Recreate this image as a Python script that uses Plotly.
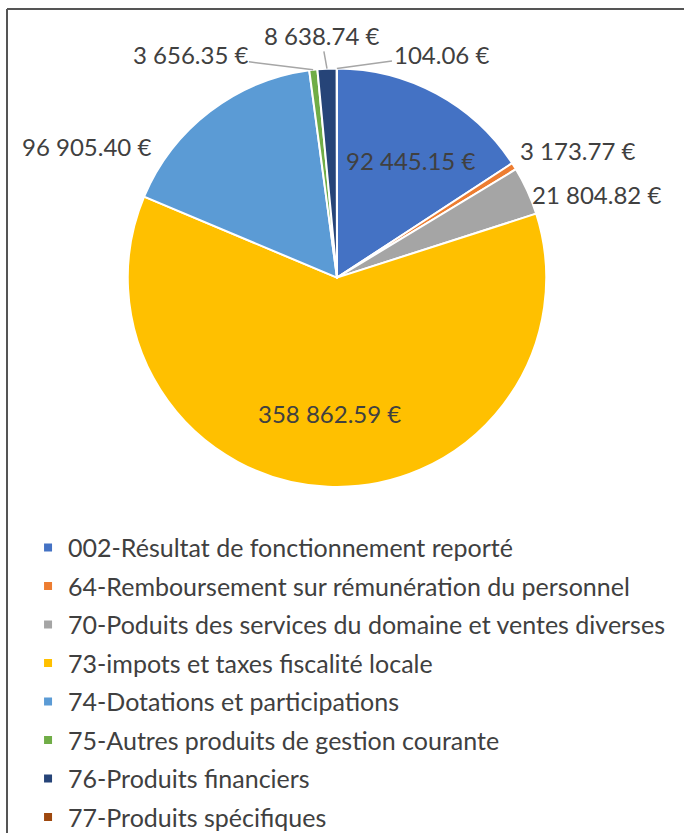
import math
import plotly.graph_objects as go

# Budget categories (recettes de fonctionnement)
categories = [
    "002-Résultat de fonctionnement reporté",
    "64-Remboursement sur rémunération du personnel",
    "70-Poduits des services du domaine et ventes diverses",
    "73-impots et taxes fiscalité locale",
    "74-Dotations et participations",
    "75-Autres produits de gestion courante",
    "76-Produits financiers",
    "77-Produits spécifiques",
]
amounts = [92445.15, 3173.77, 21804.82, 358862.59, 96905.40, 3656.35, 8638.74, 104.06]
colors = ["#4472C4", "#ED7D31", "#A5A5A5", "#FFC000", "#5B9BD5", "#70AD47", "#264478", "#9E480E"]

# Where each value label sits (pixels from the top left), and whether it has a leader line
label_xy = [(410, 162), (577, 152), (596, 196), (329, 417), (86, 148), (190, 55), (321, 36), (441, 55)]
has_leader = [False, False, False, False, False, True, True, True]

W, H = 684, 840
font_name = "Lato"
text_color = "#404040"

# Pie placement in pixels
cx, cy, r = 337, 280, 207


def px(x, y):
    # pixel position -> paper coordinates
    return x / W, 1 - y / H


fig = go.Figure()

d = r + 4
x0, y1 = px(cx - d, cy - d)
x1, y0 = px(cx + d, cy + d)
fig.add_trace(go.Pie(
    labels=categories,
    values=amounts,
    sort=False,
    direction="clockwise",
    rotation=0,
    marker=dict(colors=colors, line=dict(color="white", width=2)),
    textinfo="none",
    hoverinfo="label+value",
    showlegend=False,
    domain=dict(x=[x0, x1], y=[y0, y1]),
))

# Value labels, formatted like the original ("92 445.15 €")
label_font = dict(family=font_name, size=24, color=text_color)
total = sum(amounts)
cum = 0
for value, (lx, ly), leader in zip(amounts, label_xy, has_leader):
    mid = (cum + value / 2) / total * 2 * math.pi
    cum += value
    text = f"{value:,.2f} €".replace(",", " ")
    if leader:
        # leader line from the slice edge to the label
        hx = cx + (r + 4) * math.sin(mid)
        hy = cy - (r + 4) * math.cos(mid)
        ax_, ay_ = px(hx, hy)
        fig.add_annotation(
            x=ax_, y=ay_, xref="paper", yref="paper",
            text=text, showarrow=True, arrowhead=0, arrowwidth=1.5,
            arrowcolor="#a6a6a6", ax=lx - hx, ay=ly - hy,
            xanchor="center", yanchor="middle",
            font=label_font,
        )
    else:
        tx, ty = px(lx, ly)
        fig.add_annotation(
            x=tx, y=ty, xref="paper", yref="paper",
            text=text, showarrow=False,
            xanchor="center", yanchor="middle",
            font=label_font,
        )

# Legend entries (one group each so the rows can be spaced like the original)
for name, color in zip(categories, colors):
    fig.add_trace(go.Scatter(
        x=[None], y=[None],
        mode="markers",
        marker=dict(symbol="square", size=8, color=color),
        name=name,
        legendgroup=name,
        showlegend=True,
    ))

fig.update_xaxes(visible=False)
fig.update_yaxes(visible=False)

# Frame around the chart (left and top edges are visible in the original)
fx, fy = px(7, 9)
fig.add_shape(type="line", xref="paper", yref="paper",
              x0=fx, y0=0, x1=fx, y1=fy,
              line=dict(color="#555555", width=2))
fig.add_shape(type="line", xref="paper", yref="paper",
              x0=fx, y0=fy, x1=1, y1=fy,
              line=dict(color="#555555", width=2))

fig.update_layout(
    width=W,
    height=H,
    margin=dict(l=0, r=0, t=0, b=0),
    paper_bgcolor="white",
    plot_bgcolor="white",
    font=dict(family=font_name, color=text_color),
    legend=dict(
        x=0.041, y=0.370, xanchor="left", yanchor="top",
        font=dict(family=font_name, size=25, color=text_color),
        tracegroupgap=3,
        bgcolor="rgba(0,0,0,0)",
    ),
)

fig.write_html("out.html", config={"displayModeBar": False},
               post_script="document.body.style.margin='0px';")
